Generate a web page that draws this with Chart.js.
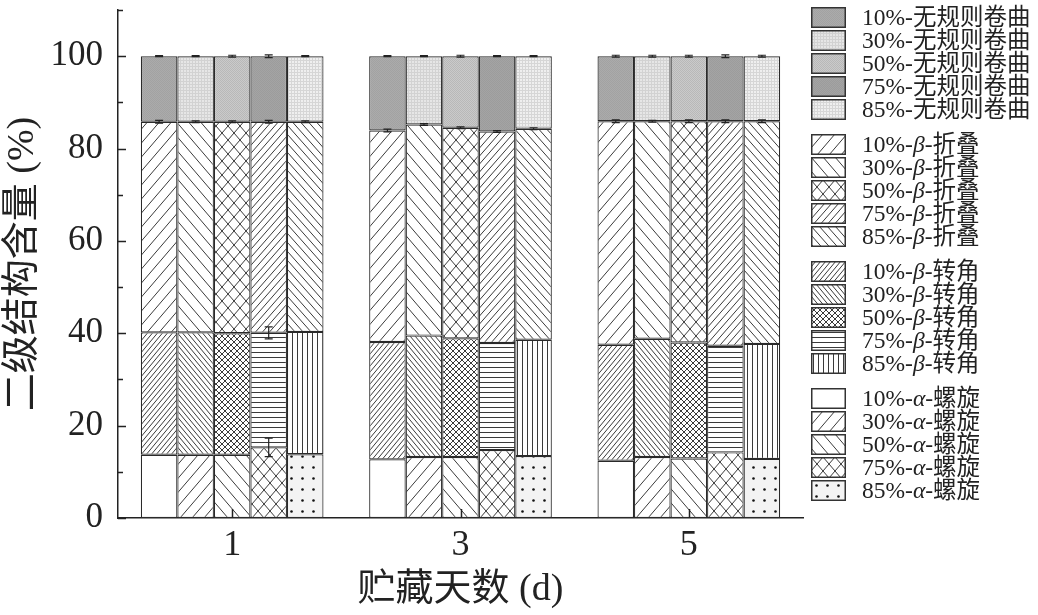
<!DOCTYPE html>
<html lang="zh">
<head>
    <meta charset="UTF-8">
    <title>二级结构含量</title>
    <script src="https://cdn.jsdelivr.net/npm/chart.js"></script>
    <style>
        body { margin: 0; background: #fff; }
        #wrap { position: relative; width: 1038px; height: 615px; }
        #chartBox { position: absolute; left: 0; top: 0; width: 806px; height: 615px; }
        #legend {
            position: absolute; left: 811px; top: 6px;
            font-family: "Liberation Serif", "Noto Sans CJK SC", serif;
            font-size: 23.5px; color: #222;
        }
        .grp { margin-bottom: 12px; }
        .row { display: flex; align-items: center; height: 23px; line-height: 23px; white-space: nowrap; }
        .row canvas { margin-right: 16px; }
    </style>
</head>
<body>
<div id="wrap">
    <div id="chartBox"><canvas id="chart"></canvas></div>
    <div id="legend"></div>
</div>

<script>
    const days = ['1', '3', '5'];
    const concs = ['10%', '30%', '50%', '75%', '85%'];

    // 各结构含量 (%)，每行一个浓度，每列一个贮藏天数 (1, 3, 5 d)
    const helix = [
        [13.7, 12.7, 12.4],
        [13.7, 13.2, 13.2],
        [13.7, 13.2, 12.9],
        [15.3, 14.7, 14.2],
        [13.8, 13.4, 12.8]
    ];
    const turn = [
        [26.5, 25.4, 25.1],
        [26.5, 26.3, 25.6],
        [26.3, 25.7, 25.1],
        [24.8, 23.2, 23.1],
        [26.5, 25.2, 24.9]
    ];
    const sheet = [
        [45.6, 45.8, 48.4],
        [45.6, 45.7, 47.1],
        [45.8, 45.6, 47.9],
        [45.7, 45.8, 48.6],
        [45.5, 45.7, 48.2]
    ];
    const coil = [
        [14.2, 16.1, 14.1],
        [14.2, 14.8, 14.1],
        [14.2, 15.5, 14.1],
        [14.2, 16.3, 14.1],
        [14.2, 15.7, 14.1]
    ];

    // 误差 (±)
    const helixErr = [[0, 0, 0], [0, 0, 0], [0, 0, 0], [2.0, 0, 0], [0, 0, 0]];
    const turnErr = [[0, 0, 0], [0, 0, 0], [0, 0, 0], [1.3, 0, 0], [0, 0, 0]];
    const sheetErr = [[0.3, 0.3, 0.3], [0.2, 0.2, 0.2], [0.2, 0.2, 0.3], [0.3, 0.2, 0.3], [0.2, 0.2, 0.3]];
    const coilErr = [[0.1, 0.1, 0.2], [0.1, 0.1, 0.2], [0.2, 0.2, 0.2], [0.3, 0.1, 0.3], [0.1, 0.1, 0.2]];

    const FONT = "'Liberation Serif', 'Noto Sans CJK SC', serif";
    const INK = '#3a3a3a';

    // 填充图案
    const patternSpecs = {
        helix: [
            { bg: '#ffffff' },
            { type: '/', w: 12, h: 14 },
            { type: '\\', w: 12, h: 14 },
            { type: 'x', w: 12, h: 14 },
            { type: 'dots', w: 11, h: 11, bg: '#f3f3f3' }
        ],
        turn: [
            { type: '/', w: 5, h: 6 },
            { type: '\\', w: 5, h: 6 },
            { type: 'x', w: 6, h: 6 },
            { type: '-', w: 5, h: 5 },
            { type: '|', w: 5, h: 5 }
        ],
        sheet: [
            { type: '/', w: 12, h: 14 },
            { type: '\\', w: 12, h: 14 },
            { type: 'x', w: 12, h: 14 },
            { type: '/', w: 7, h: 8 },
            { type: '\\', w: 8, h: 9 }
        ],
        coil: [
            { type: 'grain', w: 2, h: 2, bg: '#ababab', fg: '#a2a2a2' },
            { type: 'grid', w: 3, h: 3, bg: '#e6e6e6', fg: '#d2d2d2' },
            { type: 'grain', w: 2, h: 2, bg: '#cacaca', fg: '#b8b8b8' },
            { type: 'grain', w: 2, h: 2, bg: '#a4a4a4', fg: '#9c9c9c' },
            { type: 'grid', w: 3, h: 3, bg: '#efefef', fg: '#d6d6d6' }
        ]
    };

    function makeTile(spec) {
        const w = spec.w || 4, h = spec.h || 4;
        const c = document.createElement('canvas');
        c.width = w; c.height = h;
        const g = c.getContext('2d');
        g.fillStyle = spec.bg || '#ffffff';
        g.fillRect(0, 0, w, h);
        g.strokeStyle = INK;
        g.lineWidth = 1;
        const t = spec.type;
        g.beginPath();
        if (t === '/' || t === 'x') {
            for (const k of [-w, 0, w]) { g.moveTo(k, h); g.lineTo(k + w, 0); }
        }
        if (t === '\\' || t === 'x') {
            for (const k of [-w, 0, w]) { g.moveTo(k, 0); g.lineTo(k + w, h); }
        }
        if (t === '-') { g.moveTo(0, Math.floor(h / 2) + 0.5); g.lineTo(w, Math.floor(h / 2) + 0.5); }
        if (t === '|') { g.moveTo(Math.floor(w / 2) + 0.5, 0); g.lineTo(Math.floor(w / 2) + 0.5, h); }
        g.stroke();
        if (t === 'dots') {
            g.fillStyle = '#111';
            g.beginPath(); g.arc(w / 2, h / 2, 1.3, 0, Math.PI * 2); g.fill();
        }
        if (t === 'grid') {
            g.fillStyle = spec.fg;
            g.fillRect(0, 0, w, 1); g.fillRect(0, 0, 1, h);
        }
        if (t === 'grain') {
            g.fillStyle = spec.fg;
            g.fillRect(0, 0, 1, 1); g.fillRect(1, 1, 1, 1);
        }
        return c;
    }

    const structs = [
        { key: 'helix', greek: 'α', name: '螺旋', values: helix, errors: helixErr },
        { key: 'turn', greek: 'β', name: '转角', values: turn, errors: turnErr },
        { key: 'sheet', greek: 'β', name: '折叠', values: sheet, errors: sheetErr },
        { key: 'coil', greek: '', name: '无规则卷曲', values: coil, errors: coilErr }
    ];

    const ctx0 = document.getElementById('chart').getContext('2d');
    const datasets = [];
    structs.forEach(st => {
        concs.forEach((c, ci) => {
            const tile = makeTile(patternSpecs[st.key][ci]);
            datasets.push({
                label: c + '-' + (st.greek ? st.greek + '-' : '') + st.name,
                conc: c, greek: st.greek, sname: st.name, tile: tile,
                data: st.values[ci],
                errors: st.errors[ci],
                stack: c,
                backgroundColor: ctx0.createPattern(tile, 'repeat'),
                borderColor: '#2a2a2a',
                borderWidth: 1.2,
                borderSkipped: false,
                categoryPercentage: 0.8,
                barPercentage: 1.0
            });
        });
    });

    // 坐标轴内侧刻度
    const innerTicks = {
        id: 'innerTicks',
        afterDatasetsDraw(chart) {
            const { ctx, scales: { x, y } } = chart;
            ctx.save();
            ctx.strokeStyle = '#222';
            ctx.lineWidth = 1.5;
            ctx.beginPath();
            y.ticks.forEach(t => {
                const py = Math.round(y.getPixelForValue(t.value)) + 0.5;
                const len = t.value % 20 === 0 ? 8 : 5;
                ctx.moveTo(x.left, py); ctx.lineTo(x.left + len, py);
            });
            days.forEach((d, i) => {
                const px = Math.round(x.getPixelForValue(i)) + 0.5;
                ctx.moveTo(px, y.bottom); ctx.lineTo(px, y.bottom - 9);
            });
            ctx.stroke();
            ctx.restore();
        }
    };

    // 误差线
    const errorBars = {
        id: 'errorBars',
        afterDatasetsDraw(chart) {
            const { ctx, scales: { y } } = chart;
            ctx.save();
            ctx.strokeStyle = '#222';
            ctx.lineWidth = 1.2;
            chart.data.datasets.forEach((ds, di) => {
                const meta = chart.getDatasetMeta(di);
                meta.data.forEach((bar, i) => {
                    const e = ds.errors[i];
                    if (!e) return;
                    const top = y.getValueForPixel(bar.y);
                    const y1 = y.getPixelForValue(top + e);
                    const y2 = y.getPixelForValue(top - e);
                    ctx.beginPath();
                    ctx.moveTo(bar.x, y1); ctx.lineTo(bar.x, y2);
                    ctx.moveTo(bar.x - 4, y1); ctx.lineTo(bar.x + 4, y1);
                    ctx.moveTo(bar.x - 4, y2); ctx.lineTo(bar.x + 4, y2);
                    ctx.stroke();
                });
            });
            ctx.restore();
        }
    };

    const chart = new Chart(document.getElementById('chart'), {
        type: 'bar',
        data: { labels: days, datasets: datasets },
        plugins: [errorBars, innerTicks],
        options: {
            responsive: true,
            maintainAspectRatio: false,
            animation: false,
            layout: { padding: { top: 10, right: 3, left: 0, bottom: 0 } },
            plugins: { legend: { display: false }, tooltip: { enabled: false } },
            scales: {
                x: {
                    stacked: true,
                    grid: { display: false, drawTicks: false },
                    border: { color: '#222', width: 1.5 },
                    ticks: { color: '#222', padding: 6, font: { family: FONT, size: 36 } },
                    title: {
                        display: true, text: '贮藏天数 (d)', color: '#222',
                        font: { family: FONT, size: 38 }, padding: { top: 0, bottom: 2 }
                    },
                    afterFit: s => { s.height = 97; s.paddingLeft = 0; s.paddingRight = 0; }
                },
                y: {
                    stacked: true,
                    min: 0, max: 110,
                    grid: { display: false, drawTicks: false },
                    border: { color: '#222', width: 1.5 },
                    ticks: {
                        stepSize: 10, color: '#222', padding: 15,
                        font: { family: FONT, size: 35 },
                        callback: v => (v % 20 === 0 && v <= 100 ? v : '')
                    },
                    title: {
                        display: true, text: '二级结构含量 (%)', color: '#222',
                        font: { family: FONT, size: 38 }, padding: { top: 0, bottom: 0 }
                    },
                    afterFit: s => { s.width = 118; s.paddingTop = 0; s.paddingBottom = 0; }
                }
            }
        }
    });

    // 图例：无规则卷曲、β-折叠、β-转角、α-螺旋
    const legend = document.getElementById('legend');
    [3, 2, 1, 0].forEach(si => {
        const grp = document.createElement('div');
        grp.className = 'grp';
        for (let ci = 0; ci < concs.length; ci++) {
            const ds = chart.data.datasets[si * concs.length + ci];
            const row = document.createElement('div');
            row.className = 'row';
            const sw = document.createElement('canvas');
            sw.width = 35; sw.height = 21;
            const g = sw.getContext('2d');
            g.fillStyle = g.createPattern(ds.tile, 'repeat');
            g.fillRect(0, 0, 35, 21);
            g.strokeStyle = '#333';
            g.lineWidth = 1.5;
            g.strokeRect(0.75, 0.75, 33.5, 19.5);
            row.appendChild(sw);
            const txt = document.createElement('span');
            txt.appendChild(document.createTextNode(ds.conc + '-'));
            if (ds.greek) {
                const it = document.createElement('i');
                it.textContent = ds.greek;
                txt.appendChild(it);
                txt.appendChild(document.createTextNode('-'));
            }
            txt.appendChild(document.createTextNode(ds.sname));
            row.appendChild(txt);
            grp.appendChild(row);
        }
        legend.appendChild(grp);
    });
</script>
</body>
</html>
